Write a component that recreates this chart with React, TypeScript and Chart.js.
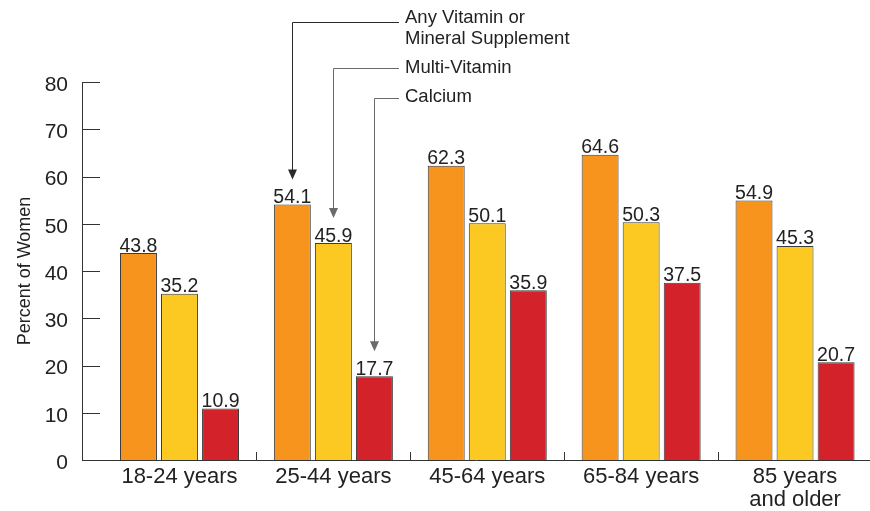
import React, { useEffect, useRef } from 'react';
import { Chart, registerables } from 'chart.js';

Chart.register(...registerables);

// ---- data ----
const categories: (string | string[])[] = [
  '18-24 years',
  '25-44 years',
  '45-64 years',
  '65-84 years',
  ['85 years', 'and older'],
];
const anySupplement = [43.8, 54.1, 62.3, 64.6, 54.9];
const multiVitamin = [35.2, 45.9, 50.1, 50.3, 45.3];
const calcium = [10.9, 17.7, 35.9, 37.5, 20.7];
const seriesNames: string[][] = [
  ['Any Vitamin or', 'Mineral Supplement'],
  ['Multi-Vitamin'],
  ['Calcium'],
];
const yTicks = [0, 10, 20, 30, 40, 50, 60, 70, 80];
const yTitle = 'Percent of Women';
const calloutCategory = 1;

// ---- styles / layout ----
const FONT = "'Liberation Sans', Arial, Helvetica, sans-serif";
const colors = ['#F7941D', '#FCC923', '#D3222A'];
const calloutLineY = [[22, 17.5, 39], [68, 68], [97.5, 97]];
const calloutColors = ['#2a2a2a', '#6a6a6a', '#6a6a6a'];
const calloutTextX = 405;
const calloutLineEndX = 399;

const overlayPlugin = {
  id: 'overlay',
  afterDraw(chart: any) {
    const ctx = chart.ctx as CanvasRenderingContext2D;
    const area = chart.chartArea;
    const xs = chart.scales.x;
    const ys = chart.scales.y;
    ctx.save();
    // inner y ticks
    ctx.strokeStyle = '#333';
    ctx.lineWidth = 1;
    yTicks.forEach((v) => {
      const py = Math.round(ys.getPixelForValue(v)) + 0.5;
      ctx.beginPath();
      ctx.moveTo(area.left, py);
      ctx.lineTo(area.left + 18, py);
      ctx.stroke();
    });
    // x boundary ticks
    for (let i = 0; i < categories.length - 1; i++) {
      const px = Math.round(xs.getPixelForValue(i + 0.5)) + 0.5;
      ctx.beginPath();
      ctx.moveTo(px, area.bottom);
      ctx.lineTo(px, area.bottom - 8);
      ctx.stroke();
    }
    // value labels
    ctx.fillStyle = '#222';
    ctx.font = `19.5px ${FONT}`;
    ctx.textAlign = 'center';
    ctx.textBaseline = 'alphabetic';
    chart.data.datasets.forEach((ds: any, di: number) => {
      const meta = chart.getDatasetMeta(di);
      meta.data.forEach((bar: any, i: number) => {
        const v = ds.data[i].y;
        ctx.fillText(v.toFixed(1), bar.x, bar.y - 1.5);
      });
    });
    // callouts
    ctx.font = `18.5px ${FONT}`;
    ctx.textAlign = 'left';
    ctx.textBaseline = 'middle';
    chart.data.datasets.forEach((ds: any, di: number) => {
      const meta = chart.getDatasetMeta(di);
      const bar = meta.data[calloutCategory];
      const ax = Math.round(bar.x) + 0.5;
      const tipY = bar.y - 25;
      const ly = Math.round(calloutLineY[di][0]) + 0.5;
      ctx.strokeStyle = calloutColors[di];
      ctx.fillStyle = calloutColors[di];
      ctx.lineWidth = 1;
      ctx.beginPath();
      ctx.moveTo(calloutLineEndX, ly);
      ctx.lineTo(ax, ly);
      ctx.lineTo(ax, tipY - 8);
      ctx.stroke();
      ctx.beginPath();
      ctx.moveTo(ax - 4.5, tipY - 10);
      ctx.lineTo(ax + 4.5, tipY - 10);
      ctx.lineTo(ax, tipY);
      ctx.closePath();
      ctx.fill();
      ctx.fillStyle = '#222';
      seriesNames[di].forEach((t, k) => {
        ctx.fillText(t, calloutTextX, calloutLineY[di][k + 1]);
      });
    });
    ctx.restore();
  },
};

export default function App() {
  const ref = useRef<HTMLCanvasElement | null>(null);
  useEffect(() => {
    if (!ref.current) return;
    Chart.defaults.font.family = FONT;
    Chart.defaults.color = '#222';
    const series = [anySupplement, multiVitamin, calcium];
    const chart = new Chart(ref.current, {
      type: 'bar',
      data: {
        datasets: series.map((vals, di) => ({
          label: seriesNames[di].join(' '),
          data: vals.map((v, i) => ({ x: i, y: v })),
          backgroundColor: colors[di],
          borderColor: '#3a3a3a',
          borderWidth: 1,
          categoryPercentage: 0.8,
          barPercentage: 0.9,
        })),
      },
      options: {
        animation: false,
        responsive: false,
        layout: { padding: { top: 82, right: 0, left: 0, bottom: 0 } },
        plugins: { legend: { display: false }, tooltip: { enabled: false } },
        scales: {
          x: {
            type: 'linear',
            offset: false,
            min: -0.6335,
            max: 4.487,
            afterBuildTicks: (scale: any) => {
              scale.ticks = categories.map((_, i) => ({ value: i }));
            },
            afterFit: (scale: any) => {
              scale.height = 51;
            },
            grid: { display: false, drawTicks: false, offset: false },
            border: { display: true, color: '#333', width: 1 },
            ticks: {
              autoSkip: false,
              maxRotation: 0,
              padding: 5,
              color: '#222',
              font: { size: 22, lineHeight: 1.05 },
              callback: (value: any) => categories[Math.round(Number(value))] as any,
            },
          },
          y: {
            min: 0,
            max: 80,
            afterBuildTicks: (scale: any) => {
              scale.ticks = yTicks.map((v) => ({ value: v }));
            },
            afterFit: (scale: any) => {
              scale.width = 82;
            },
            grid: { display: false, drawTicks: false },
            border: { display: true, color: '#333', width: 1 },
            ticks: {
              padding: 14,
              labelOffset: 3,
              color: '#222',
              font: { size: 21 },
            },
            title: {
              display: true,
              text: yTitle,
              color: '#222',
              font: { size: 18 },
              padding: { top: 14, bottom: 0 },
            },
          },
        },
      },
      plugins: [overlayPlugin],
    } as any);
    return () => chart.destroy();
  }, []);
  return (
    <div style={{ position: 'absolute', left: 0, top: 0, width: 870, height: 511, background: '#fff' }}>
      <canvas ref={ref} width={870} height={511} style={{ display: 'block' }} />
    </div>
  );
}
